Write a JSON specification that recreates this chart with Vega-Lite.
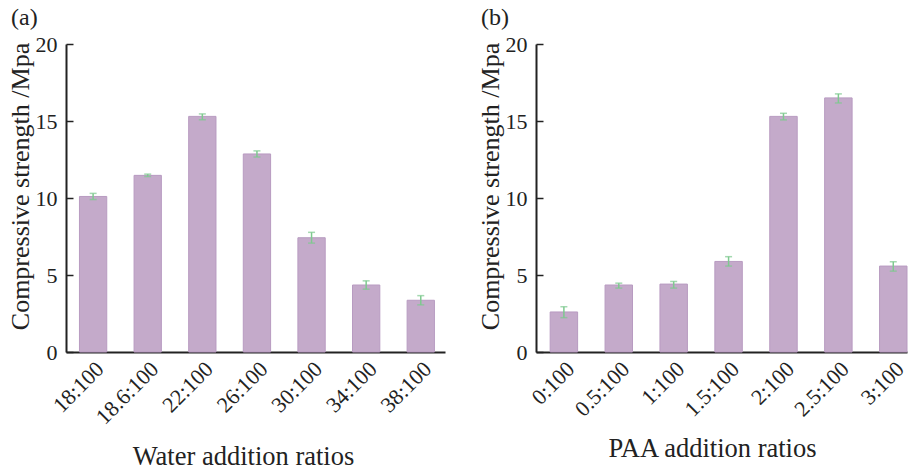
{
  "$schema": "https://vega.github.io/schema/vega-lite/v6.json",
  "background": "white",
  "padding": {"left": 6, "top": 6, "right": 0, "bottom": 0},
  "spacing": 31,
  "config": {
    "font": "Liberation Serif",
    "view": {"stroke": null},
    "axis": {"domainColor": "#222222", "domainWidth": 2, "labelColor": "#222222", "titleColor": "#222222", "labelFont": "Liberation Serif", "titleFont": "Liberation Serif", "titleFontWeight": "normal", "grid": false},
    "title": {"font": "Liberation Serif", "fontSize": 24, "fontWeight": "normal", "anchor": "start", "frame": "bounds", "color": "#222222", "offset": 3, "dx": 4}
  },
  "hconcat": [
    {
      "width": 379, "height": 308,
      "title": {"text": "(a)"},
      "data": {"values": [
        {"ratio": "18:100", "strength": 10.1, "lo": 9.9, "hi": 10.3},
        {"ratio": "18.6:100", "strength": 11.47, "lo": 11.39, "hi": 11.55},
        {"ratio": "22:100", "strength": 15.3, "lo": 15.08, "hi": 15.46},
        {"ratio": "26:100", "strength": 12.86, "lo": 12.66, "hi": 13.06},
        {"ratio": "30:100", "strength": 7.42, "lo": 7.07, "hi": 7.77},
        {"ratio": "34:100", "strength": 4.35, "lo": 4.08, "hi": 4.62},
        {"ratio": "38:100", "strength": 3.36, "lo": 3.06, "hi": 3.66}
      ]},
      "encoding": {
        "x": {"field": "ratio", "type": "nominal", "sort": null,
          "scale": {"paddingInner": 0.5, "paddingOuter": 0.22, "align": 0.56},
          "axis": {"title": "Water addition ratios", "titleFontSize": 26.5, "labelFontSize": 22, "labelAngle": -45, "ticks": false, "labelPadding": 6, "titlePadding": 16, "titleX": 177}}
      },
      "layer": [
        {"mark": {"type": "bar", "color": "#c4aaca", "stroke": "#b89bc1", "strokeWidth": 1},
         "encoding": {"y": {"field": "strength", "type": "quantitative", "title": "Compressive strength /Mpa",
           "scale": {"domain": [0, 20]},
           "axis": {"titleFontSize": 26, "labelFontSize": 22, "values": [0, 2.5, 5, 7.5, 10, 12.5, 15, 17.5, 20],
             "labelExpr": "datum.value % 5 === 0 ? format(datum.value, 'd') : ''",
             "tickSize": -7, "tickColor": "#222222", "tickWidth": 1.5, "labelPadding": 16, "titlePadding": 2, "titleY": 142,
             "encode": {"ticks": {"update": {"x2": {"signal": "datum.value % 5 === 0 ? 7 : 3.5"}}}}}}}},
        {"mark": {"type": "errorbar", "color": "#7ec98f", "thickness": 1.5, "ticks": {"size": 7, "color": "#7ec98f", "thickness": 1.5}},
         "encoding": {"y": {"field": "lo", "type": "quantitative", "title": "Compressive strength /Mpa"}, "y2": {"field": "hi"}}}
      ]
    },
    {
      "width": 371, "height": 308,
      "title": {"text": "(b)"},
      "data": {"values": [
        {"ratio": "0:100", "strength": 2.6, "lo": 2.23, "hi": 2.94},
        {"ratio": "0.5:100", "strength": 4.35, "lo": 4.15, "hi": 4.47},
        {"ratio": "1:100", "strength": 4.41, "lo": 4.15, "hi": 4.58},
        {"ratio": "1.5:100", "strength": 5.88, "lo": 5.58, "hi": 6.19},
        {"ratio": "2:100", "strength": 15.3, "lo": 15.07, "hi": 15.5},
        {"ratio": "2.5:100", "strength": 16.5, "lo": 16.17, "hi": 16.76},
        {"ratio": "3:100", "strength": 5.58, "lo": 5.25, "hi": 5.86}
      ]},
      "encoding": {
        "x": {"field": "ratio", "type": "nominal", "sort": null,
          "scale": {"paddingInner": 0.5, "paddingOuter": 0.129, "align": 1},
          "axis": {"title": "PAA addition ratios", "titleFontSize": 26.5, "labelFontSize": 22, "labelAngle": -45, "ticks": false, "labelPadding": 6, "titlePadding": 16, "titleX": 176}}
      },
      "layer": [
        {"mark": {"type": "bar", "color": "#c4aaca", "stroke": "#b89bc1", "strokeWidth": 1},
         "encoding": {"y": {"field": "strength", "type": "quantitative", "title": "Compressive strength /Mpa",
           "scale": {"domain": [0, 20]},
           "axis": {"titleFontSize": 26, "labelFontSize": 22, "values": [0, 2.5, 5, 7.5, 10, 12.5, 15, 17.5, 20],
             "labelExpr": "datum.value % 5 === 0 ? format(datum.value, 'd') : ''",
             "tickSize": -7, "tickColor": "#222222", "tickWidth": 1.5, "labelPadding": 16, "titlePadding": 2, "titleY": 142,
             "encode": {"ticks": {"update": {"x2": {"signal": "datum.value % 5 === 0 ? 7 : 3.5"}}}}}}}},
        {"mark": {"type": "errorbar", "color": "#7ec98f", "thickness": 1.5, "ticks": {"size": 7, "color": "#7ec98f", "thickness": 1.5}},
         "encoding": {"y": {"field": "lo", "type": "quantitative", "title": "Compressive strength /Mpa"}, "y2": {"field": "hi"}}}
      ]
    }
  ]
}
